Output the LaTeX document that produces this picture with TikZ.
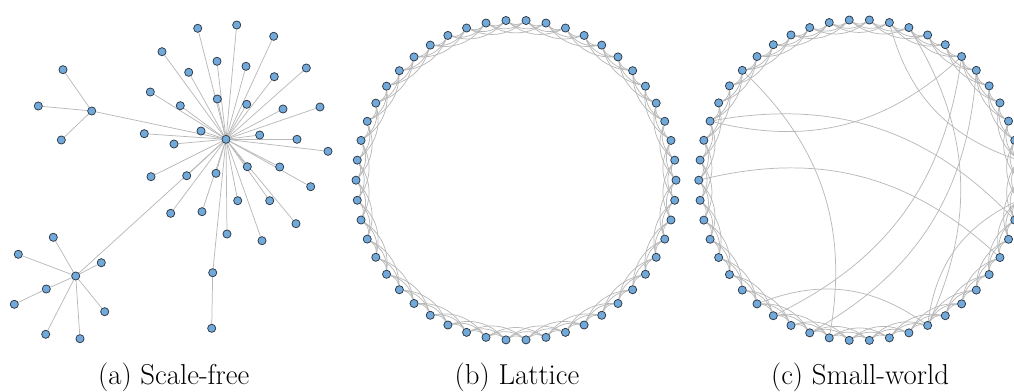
\documentclass[tikz,border=0pt]{standalone}
\usepackage{fontspec}
\pgfdeclarelayer{bg}
\pgfsetlayers{bg,main}
\definecolor{nodeblue}{HTML}{72A9DB}
\definecolor{nodeline}{HTML}{2A3540}
\definecolor{edgegray}{HTML}{B8B8B8}
\tikzset{
  nd/.style={circle,fill=nodeblue,draw=nodeline,line width=0.55pt,inner sep=0pt,minimum size=6.1pt},
  ed/.style={draw=edgegray,line width=0.55pt},
  captxt/.style={anchor=base,font=\fontsize{21.6}{24}\selectfont,inner sep=0pt},
}
\begin{document}
\begin{tikzpicture}[x=0.75pt,y=-0.75pt]
\useasboundingbox (0,0) rectangle (1014,392);

% ---------------- (a) scale-free ----------------
\node[nd] (H) at (226,139.3) {};
\node[nd] (A) at (91.7,111) {};
\node[nd] (B) at (75.7,276) {};
\foreach \x/\y [count=\i] in {63/69.7, 38.3/106, 61.3/140}
  {\node[nd] (a\i) at (\x,\y) {};}
\foreach \x/\y [count=\i] in {53.3/237.3, 18.3/254.3, 101.3/262.7, 46.3/289, 104.7/311.7, 45.7/334.3, 80/338.7}
  {\node[nd] (b\i) at (\x,\y) {};}
\node[nd] (b8) at (14.3,304.3) {};
\foreach \x/\y [count=\i] in {197.7/28.3, 236.7/25, 273.7/36.3, 162/51.7, 217/61.3, 246/66.3, 306.3/68, 188.7/72.3, 274.3/76.7, 150.3/92, 217.3/99, 180.3/105.7, 246.7/104.3, 283/109, 320/107, 144.3/133.7, 201/131, 174/144, 259.7/135, 297/139.3, 328/151.3, 151/176.7, 186.7/175.7, 216/173.3, 247.3/166.7, 279.7/167, 310.7/186.7, 237.7/200.7, 269.7/200.7, 170.7/213.3, 202/211.7, 296/223.7, 227/234, 262/240.7, 212.7/272.7}
  {\node[nd] (h\i) at (\x,\y) {};}
\node[nd] (c1) at (211.7,328.3) {};

\begin{pgfonlayer}{bg}
  \foreach \i in {1,...,35} {\draw[ed] (H) -- (h\i);}
  \draw[ed] (H) -- (A);
  \draw[ed] (H) -- (B);
  \foreach \i in {1,2,3} {\draw[ed] (A) -- (a\i);}
  \foreach \i in {1,...,7} {\draw[ed] (B) -- (b\i);}
  \draw[ed] (b4) -- (b8);
  \draw[ed] (h35) -- (c1);
\end{pgfonlayer}

% ---------------- (b) lattice ----------------
\foreach \k in {0,...,49}
  {\node[nd] (L\k) at ({516+160*cos(7.2*\k)},{180.2-160*sin(7.2*\k)}) {};}
\begin{pgfonlayer}{bg}
  \foreach \k in {0,...,49}{
    \foreach \d in {1,2,3}{
      \pgfmathtruncatemacro\j{mod(\k+\d,50)}
      \draw[ed] (L\k) to[bend left=30] (L\j);
    }
  }
\end{pgfonlayer}

% ---------------- (c) small-world ----------------
\foreach \k in {0,...,49}
  {\node[nd] (S\k) at ({859.3+160.5*cos(7.2*\k)},{180.2-160.5*sin(7.2*\k)}) {};}
\begin{pgfonlayer}{bg}
  \foreach \k in {0,...,49}{
    \foreach \d in {1,2,3}{
      \pgfmathtruncatemacro\j{mod(\k+\d,50)}
      \draw[ed] (S\k) to[bend left=30] (S\j);
    }
  }
  \foreach \a/\b in {1/11, 7/22, 19/36, 22/48, 25/46, 7/33, 6/35, 10/41, 32/41, 41/49}
    {\draw[ed] (S\a) to[bend left=28] (S\b);}
\end{pgfonlayer}

% ---------------- captions ----------------
\node[captxt] (ca) at (173.7,384) {(a) Scale-free};
\node[captxt] (cb) at (517,384) {(b) Lattice};
\node[captxt] (cc) at (860,384) {(c) Small-world};
\end{tikzpicture}
\end{document}
